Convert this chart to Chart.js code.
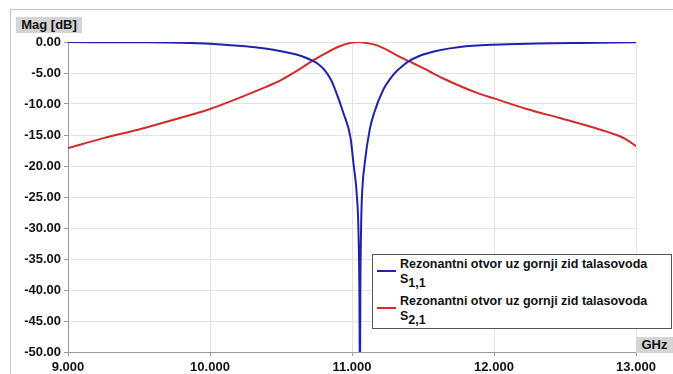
<!DOCTYPE html>
<html>
<head>
<meta charset="utf-8">
<script src="https://cdn.jsdelivr.net/npm/chart.js@4/dist/chart.umd.min.js"></script>
<style>
  html, body { margin: 0; padding: 0; background: #ffffff; }
  #wrap { position: relative; width: 673px; height: 374px; overflow: hidden; background: #fff; }
  #frame { position: absolute; left: 10px; top: 9px; width: 700px; height: 400px; border: 1px solid #c4c4c4; box-sizing: border-box; }
  canvas { position: absolute; left: 0; top: 0; }
  .unit { position: absolute; background: #d4d4d4; font: bold 13px "Liberation Sans", Arial, sans-serif; color: #111; line-height: 16px; text-align: center; white-space: nowrap; }
  #ylab { left: 16px; top: 17px; width: 66px; height: 16px; }
  #xlab { left: 636px; top: 337px; width: 37px; height: 16px; }
  #legend { position: absolute; left: 372px; top: 254px; width: 300px; height: 75px; border: 1px solid #555; background: #fff; box-sizing: border-box; font: bold 12.5px "Liberation Sans", Arial, sans-serif; color: #111; }
  .item { position: absolute; left: 27px; line-height: 15px; white-space: nowrap; }
  .item sub { font-size: 12.5px; vertical-align: -4px; line-height: 0; }
  .sw { position: absolute; left: 4px; width: 19px; height: 2px; }
</style>
</head>
<body>
<div id="wrap">
  <div id="frame"></div>
  <canvas id="c" width="673" height="374"></canvas>
  <div class="unit" id="ylab">Mag [dB]</div>
  <div class="unit" id="xlab">GHz</div>
  <div id="legend">
    <div class="sw" style="top:15px;background:#1f22b0"></div>
    <div class="item" style="top:2px">Rezonantni otvor uz gornji zid talasovoda<br>S<sub>1,1</sub></div>
    <div class="sw" style="top:52px;background:#d42a2a"></div>
    <div class="item" style="top:39px">Rezonantni otvor uz gornji zid talasovoda<br>S<sub>2,1</sub></div>
  </div>
</div>
<script>
// Frequencies (GHz) and magnitudes (dB)
const s11Freq = [9.0, 9.5, 9.8, 10.0, 10.25, 10.4, 10.5, 10.62, 10.67, 10.72, 10.77, 10.81, 10.85, 10.88, 10.94, 10.99, 11.01, 11.035, 11.045, 11.052, 11.056, 11.059, 11.064, 11.07, 11.09, 11.125, 11.155, 11.22, 11.27, 11.31, 11.36, 11.40, 11.47, 11.52, 11.6, 11.76, 12.0, 12.3, 12.6, 13.0];
const s11Mag  = [-0.02, -0.05, -0.12, -0.27, -0.7, -1.1, -1.5, -2.1, -2.5, -3.0, -3.7, -4.6, -6.0, -7.6, -11.5, -15.5, -19.5, -25, -30, -40, -56, -40, -30, -25, -19.5, -14.1, -11.5, -7.7, -5.9, -4.8, -3.8, -3.1, -2.3, -1.9, -1.4, -0.8, -0.43, -0.25, -0.15, -0.05];
const s21Freq = [9.0, 9.25, 9.5, 9.75, 10.0, 10.25, 10.4, 10.5, 10.62, 10.72, 10.8, 10.9, 11.0, 11.05, 11.1, 11.17, 11.25, 11.32, 11.40, 11.47, 11.55, 11.64, 11.76, 11.88, 12.0, 12.23, 12.47, 12.70, 12.85, 12.93, 13.0];
const s21Mag  = [-17.1, -15.5, -14.1, -12.5, -10.8, -8.6, -7.2, -6.15, -4.55, -3.05, -2.0, -0.8, -0.1, 0, -0.15, -0.5, -1.3, -2.2, -3.1, -3.85, -4.8, -5.85, -7.1, -8.2, -9.1, -10.8, -12.3, -13.8, -14.9, -15.7, -16.8];
const xTicks = [9, 10, 11, 12, 13];
const yTicks = [0, -5, -10, -15, -20, -25, -30, -35, -40, -45, -50];

const toPts = (xs, ys) => xs.map((x, i) => ({ x: x, y: ys[i] }));
const tickFont = { family: '"Liberation Sans", Arial, sans-serif', size: 13, weight: 'bold' };

new Chart(document.getElementById('c'), {
  type: 'line',
  data: {
    datasets: [
      { label: 'S1,1', data: toPts(s11Freq, s11Mag), borderColor: '#1f22b0', borderWidth: 2, pointRadius: 0, cubicInterpolationMode: 'monotone', fill: false },
      { label: 'S2,1', data: toPts(s21Freq, s21Mag), borderColor: '#d42a2a', borderWidth: 2, pointRadius: 0, cubicInterpolationMode: 'monotone', fill: false }
    ]
  },
  options: {
    responsive: false,
    animation: false,
    events: [],
    layout: { padding: { left: 0, top: 42, right: 37, bottom: 0 } },
    plugins: { legend: { display: false }, tooltip: { enabled: false } },
    scales: {
      x: {
        type: 'linear', min: 9, max: 13,
        afterBuildTicks: s => { s.ticks = xTicks.map(v => ({ value: v })); },
        afterFit: s => { s.height = 22; },
        ticks: { callback: v => Number(v).toFixed(3), color: '#111', font: tickFont, padding: 4, maxRotation: 0 },
        grid: { color: '#e3e3e3', tickLength: 4, tickColor: '#999' },
        border: { color: '#999' }
      },
      y: {
        type: 'linear', min: -50, max: 0,
        afterBuildTicks: s => { s.ticks = yTicks.map(v => ({ value: v })); },
        afterFit: s => { s.width = 68; },
        ticks: { callback: v => Number(v).toFixed(2), color: '#111', font: tickFont, padding: 3 },
        grid: { color: '#e3e3e3', tickLength: 4, tickColor: '#999' },
        border: { color: '#999' }
      }
    }
  }
});
</script>
</body>
</html>
